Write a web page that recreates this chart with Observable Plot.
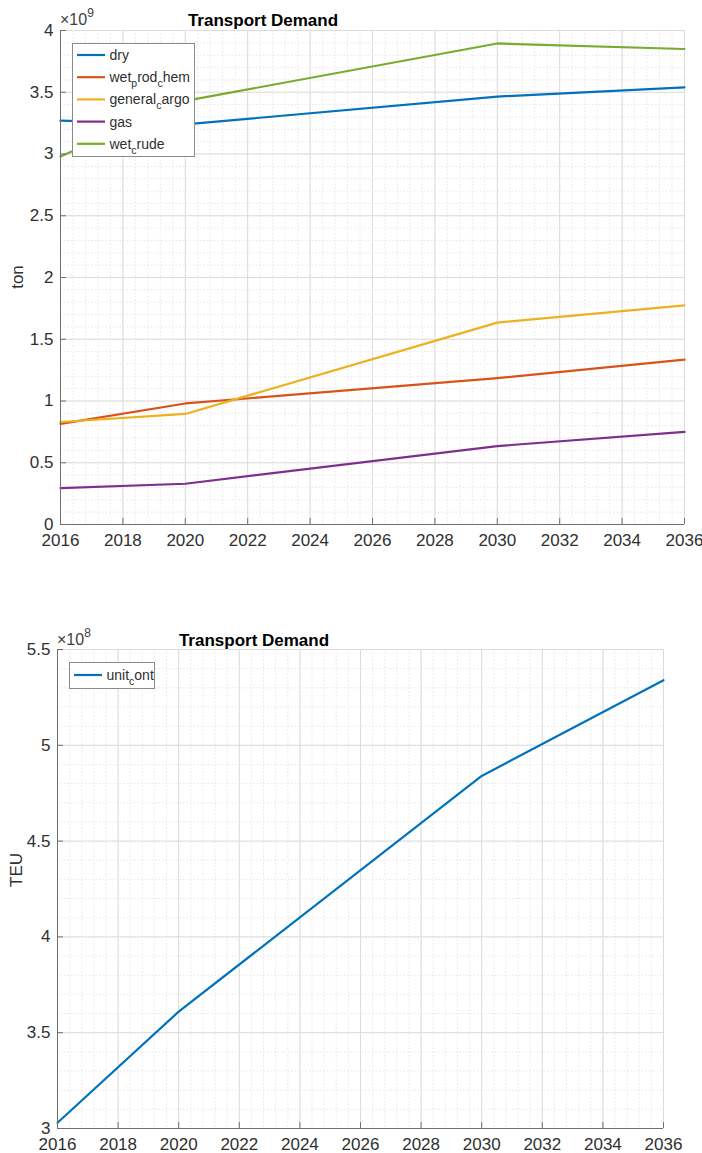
<!DOCTYPE html>
<html><head><meta charset="utf-8">
<script src="https://cdn.jsdelivr.net/npm/d3@7"></script>
<script src="https://cdn.jsdelivr.net/npm/@observablehq/plot@0.6"></script>
<style>
body{margin:0;background:#fff;}
#page{position:relative;width:702px;height:1153px;background:#fff;overflow:hidden;font-family:"Liberation Sans",Arial,sans-serif;}
#top,#bottom{position:absolute;left:0;}
#top{top:0px}
#bottom{top:600px}
</style></head><body><div id="page"><div id="top"></div><div id="bottom"></div></div>
<script>
// ---- data ----
const years = [2016, 2020, 2030, 2036];
const seriesNames = ["dry", "wet_prod_chem", "general_cargo", "gas", "wet_crude"];
const seriesColors = ["#0072BD", "#D95319", "#EDB120", "#7E2F8E", "#77AC30"];
const dry = [3.27e9, 3.24e9, 3.465e9, 3.54e9];
const wetProdChem = [0.815e9, 0.98e9, 1.185e9, 1.335e9];
const generalCargo = [0.83e9, 0.895e9, 1.635e9, 1.775e9];
const gas = [0.295e9, 0.33e9, 0.635e9, 0.75e9];
const wetCrude = [2.98e9, 3.43e9, 3.895e9, 3.85e9];
const unitName = ["unit_cont"];
const unitColor = ["#0072BD"];
const unitCont = [3.03e8, 3.61e8, 4.84e8, 5.34e8];
const xTicks = [2016, 2018, 2020, 2022, 2024, 2026, 2028, 2030, 2032, 2034, 2036];
const yTicksTop = [0, 0.5e9, 1e9, 1.5e9, 2e9, 2.5e9, 3e9, 3.5e9, 4e9];
const yTicksBottom = [3e8, 3.5e8, 4e8, 4.5e8, 5e8, 5.5e8];
const titleText = "Transport Demand";

const topValues = [dry, wetProdChem, generalCargo, gas, wetCrude];
const topData = seriesNames.flatMap((s, i) => years.map((y, j) => ({series: s, year: y, value: topValues[i][j]})));
const bottomData = years.map((y, j) => ({series: unitName[0], year: y, value: unitCont[j]}));

const AX = "#6f6f6f", TXT = "#303030";

function minorRange(a, b, step) {
  const n = Math.round((b - a) / step);
  return d3.range(n + 1).map(i => a + i * step);
}

function makeChart(o) {
  const innerW = o.width - o.ml - o.mr, innerH = o.height - o.mt - o.mb;
  const minorX = minorRange(2016, 2036, 0.4);
  const minorY = minorRange(o.ydom[0], o.ydom[1], o.minorStep);
  return Plot.plot({
    width: o.width, height: o.height,
    marginLeft: o.ml, marginRight: o.mr, marginTop: o.mt, marginBottom: o.mb,
    style: {fontFamily: "'Liberation Sans', Arial, sans-serif", fontSize: "16px", color: TXT, background: "white", overflow: "visible"},
    x: {domain: [2016, 2036]},
    y: {domain: o.ydom},
    color: {domain: o.names, range: o.colors},
    marks: [
      Plot.ruleX(minorX, {x: d => d, stroke: "#e6e6e6", strokeDasharray: "1.5,2"}),
      Plot.ruleY(minorY, {y: d => d, stroke: "#e6e6e6", strokeDasharray: "1.5,2"}),
      Plot.ruleX(xTicks, {x: d => d, stroke: "#dcdcdc"}),
      Plot.ruleY(o.yticks, {y: d => d, stroke: "#dcdcdc"}),
      Plot.line(o.data, {x: "year", y: "value", z: "series", stroke: "series", strokeWidth: 2.2, strokeLinejoin: "round"}),
      Plot.ruleX([2016], {stroke: AX}),
      Plot.ruleY([o.ydom[0]], {stroke: AX}),
      Plot.tickX(xTicks, {x: d => d, insetTop: innerH - 6, stroke: AX}),
      Plot.tickY(o.yticks, {y: d => d, insetRight: innerW - 6, stroke: AX}),
      Plot.axisX({ticks: xTicks, tickFormat: d => String(d), tickSize: 0, tickPadding: 9, label: null, fontSize: 17}),
      Plot.axisY({ticks: o.yticks, tickFormat: d => String(+(d / o.exp).toFixed(1)), tickSize: 0, tickPadding: 7, label: null, fontSize: 17})
    ]
  });
}

function addLabel(parent, name, x, y, size) {
  // TeX-like: "_c" makes next char subscript
  const t = parent.append("text").attr("x", x).attr("y", y).attr("font-size", size)
    .attr("text-anchor", "start").attr("fill", TXT);
  let i = 0, buf = "";
  const flush = () => { if (buf) { t.append("tspan").text(buf); buf = ""; } };
  while (i < name.length) {
    if (name[i] === "_" && i + 1 < name.length) {
      flush();
      t.append("tspan").attr("dy", 5).attr("font-size", size * 0.75).text(name[i + 1]);
      t.append("tspan").attr("dy", -5).text("\u200b");
      i += 2;
    } else { buf += name[i]; i++; }
  }
  flush();
}

function decorate(svgNode, o) {
  const svg = d3.select(svgNode);
  svg.append("text").attr("x", o.titleX).attr("y", o.titleY).attr("text-anchor", "middle")
    .attr("font-weight", "bold").attr("font-size", 17).attr("fill", "#000").text(titleText);
  const ex = svg.append("text").attr("x", o.expX).attr("y", o.expY).attr("font-size", 16)
    .attr("text-anchor", "start").attr("fill", "#404040");
  ex.append("tspan").text("\u00d710");
  ex.append("tspan").attr("dy", -8).attr("font-size", 12).text(o.expDigit);
  svg.append("text").attr("transform", `translate(${o.ylabX},${o.ylabY}) rotate(-90)`)
    .attr("text-anchor", "middle").attr("font-size", 17).attr("fill", TXT).text(o.ylab);
  const g = svg.append("g");
  g.append("rect").attr("x", o.legX).attr("y", o.legY).attr("width", o.legW).attr("height", o.legH)
    .attr("fill", "white").attr("stroke", "#8a8a8a").attr("stroke-width", 1);
  o.names.forEach((n, i) => {
    const cy = o.legRow0 + i * o.legStep;
    g.append("line").attr("x1", o.legX + 4.5).attr("x2", o.legX + 32.5).attr("y1", cy).attr("y2", cy)
      .attr("stroke", o.colors[i]).attr("stroke-width", 2.2);
    addLabel(g, n, o.legX + 37, cy + 5, 14);
  });
}

const topOpts = {
  width: 702, height: 560, ml: 60, mr: 18, mt: 30, mb: 36,
  ydom: [0, 4e9], yticks: yTicksTop, minorStep: 1e8, exp: 1e9,
  data: topData, names: seriesNames, colors: seriesColors,
  titleX: 263, titleY: 26, expX: 60, expY: 25, expDigit: "9", ylab: "ton", ylabX: 23, ylabY: 277,
  legX: 72.5, legY: 43.5, legW: 122, legH: 113, legRow0: 55, legStep: 22.2
};
const botOpts = {
  width: 702, height: 553, ml: 57, mr: 39, mt: 49, mb: 25,
  ydom: [3e8, 5.5e8], yticks: yTicksBottom, minorStep: 1e7, exp: 1e8,
  data: bottomData, names: unitName, colors: unitColor,
  titleX: 254, titleY: 46, expX: 57, expY: 45, expDigit: "8", ylab: "TEU", ylabX: 22, ylabY: 270,
  legX: 69.5, legY: 62.5, legW: 85, legH: 26, legRow0: 75, legStep: 22
};

const s1 = makeChart(topOpts);
document.getElementById("top").appendChild(s1);
decorate(s1, topOpts);
const s2 = makeChart(botOpts);
document.getElementById("bottom").appendChild(s2);
decorate(s2, botOpts);
</script>
</body></html>
